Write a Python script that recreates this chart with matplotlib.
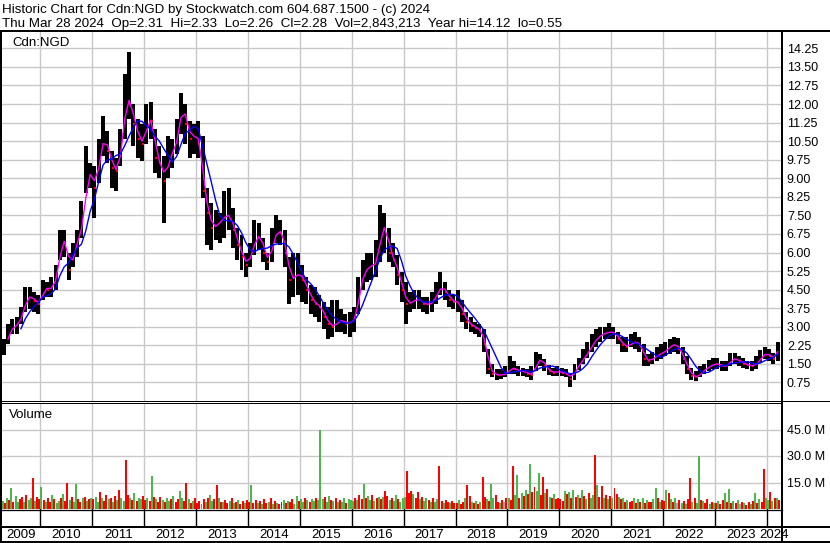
import numpy as np
import pandas as pd
import matplotlib
matplotlib.use('Agg')
import matplotlib.pyplot as plt

plt.rcParams['font.family'] = ['Liberation Sans', 'DejaVu Sans']

# месячные данные Apr 2009 .. Mar 2024
months = pd.period_range('2009-04', '2024-03', freq='M')

hi = [2.5, 3.1, 3.3, 3.4, 3.8, 4.6, 4.6, 4.4, 4.3,
      4.9, 4.8, 5.0, 5.5, 6.9, 6.9, 6.0, 6.4, 6.9, 8.1, 10.3, 9.6,
      9.5, 10.6, 11.5, 10.9, 10.1, 9.8, 11.0, 13.2, 14.12, 12.0, 11.4, 11.2,
      12.0, 12.1, 11.0, 10.3, 9.9, 10.7, 10.6, 11.4, 12.45, 12.0, 11.3, 11.2,
      11.3, 10.7, 8.6, 8.0, 7.7, 7.6, 8.5, 8.6, 7.8, 7.0, 6.7, 6.0,
      6.4, 7.3, 7.2, 6.6, 6.0, 7.0, 7.5, 7.3, 6.9, 5.8, 6.0, 6.0,
      5.5, 5.0, 4.7, 4.6, 4.3, 4.0, 3.8, 4.1, 4.1, 3.7, 3.5, 3.6,
      3.8, 5.0, 5.7, 6.0, 6.0, 6.5, 7.9, 7.6, 7.0, 6.4, 5.9, 5.2,
      4.8, 4.4, 4.5, 4.5, 4.2, 4.2, 4.4, 4.8, 5.2, 4.8, 4.5, 4.3,
      4.5, 4.1, 3.6, 3.4, 3.2, 3.1, 2.9, 2.1, 1.5, 1.3, 1.3, 1.4,
      1.8, 1.6, 1.4, 1.35, 1.3, 1.4, 2.0, 1.9, 1.7, 1.45, 1.35, 1.4,
      1.35, 1.3, 1.1, 1.5, 1.75, 2.1, 2.4, 2.7, 2.9, 3.0, 3.0, 3.15,
      3.0, 2.8, 2.6, 2.6, 2.7, 2.8, 2.6, 2.3, 1.9, 2.0, 2.2, 2.3,
      2.4, 2.5, 2.6, 2.55, 2.2, 1.8, 1.35, 1.2, 1.4, 1.5, 1.65, 1.75,
      1.75, 1.6, 1.6, 1.95, 1.95, 1.8, 1.75, 1.6, 1.6, 1.8, 2.05, 2.2,
      2.1, 1.95, 2.4]

lo = [1.85, 2.3, 2.7, 2.7, 3.1, 3.6, 3.7, 3.6, 3.5,
      4.1, 4.2, 4.2, 4.5, 5.7, 5.8, 4.9, 5.4, 5.8, 6.6, 8.4, 8.6,
      7.4, 8.8, 9.9, 9.6, 8.6, 8.5, 9.5, 10.6, 11.4, 10.3, 9.8, 9.7,
      10.4, 10.6, 9.2, 9.0, 7.2, 9.0, 9.4, 10.0, 10.8, 10.4, 9.8, 10.0,
      9.8, 8.2, 6.3, 6.1, 6.5, 6.4, 6.6, 6.9, 6.2, 5.7, 5.3, 5.0,
      5.4, 5.9, 6.1, 5.6, 5.3, 5.6, 6.4, 6.3, 5.4, 3.9, 4.2, 4.3,
      4.0, 3.9, 3.5, 3.4, 3.2, 2.9, 2.5, 2.6, 2.8, 2.8, 2.7, 2.6,
      2.8, 3.5, 4.5, 4.8, 4.9, 5.0, 5.6, 6.0, 5.6, 5.4, 4.7, 4.0,
      3.1, 3.6, 3.7, 3.7, 3.6, 3.5, 3.6, 3.9, 4.3, 4.1, 3.8, 3.7,
      3.6, 3.2, 2.9, 2.8, 2.7, 2.6, 2.0, 1.1, 0.95, 0.85, 0.9, 0.95,
      1.1, 1.1, 1.0, 1.0, 0.95, 0.85, 1.2, 1.4, 1.2, 1.05, 1.0, 1.0,
      1.0, 0.95, 0.55, 0.85, 1.25, 1.5, 1.75, 2.0, 2.2, 2.4, 2.5, 2.5,
      2.5, 2.3, 2.0, 2.0, 2.2, 2.1, 2.0, 1.4, 1.4, 1.5, 1.6, 1.7,
      1.8, 1.9, 2.0, 1.9, 1.5, 1.1, 0.85, 0.8, 0.95, 1.1, 1.2, 1.3,
      1.3, 1.2, 1.2, 1.4, 1.5, 1.4, 1.35, 1.3, 1.2, 1.3, 1.55, 1.7,
      1.6, 1.5, 1.6]

close = [2.2, 2.8, 3.0, 3.1, 3.5, 4.2, 4.2, 4.05, 3.9,
         4.6, 4.5, 4.6, 5.1, 6.5, 6.4, 5.3, 6.1, 6.6, 7.3, 9.1, 9.2,
         8.6, 10.2, 10.6, 10.1, 9.4, 9.3, 10.5, 12.3, 12.0, 11.2, 10.6, 10.4,
         11.4, 11.3, 9.8, 9.6, 8.9, 10.0, 10.0, 10.9, 12.0, 11.2, 10.6, 10.8,
         10.4, 8.5, 7.6, 7.0, 7.1, 7.3, 7.5, 7.5, 6.9, 6.3, 5.8, 5.5,
         6.0, 6.6, 6.7, 6.0, 5.6, 6.5, 6.9, 6.8, 6.0, 4.9, 5.0, 5.2,
         4.9, 4.5, 4.1, 3.9, 3.8, 3.4, 3.1, 3.0, 3.2, 3.3, 3.1, 3.2,
         3.3, 4.6, 5.2, 5.4, 5.5, 5.6, 7.0, 7.0, 6.0, 5.7, 5.1, 4.5,
         3.9, 4.0, 4.1, 4.1, 3.9, 3.9, 4.0, 4.4, 4.65, 4.4, 4.1, 4.0,
         4.0, 3.5, 3.2, 3.05, 2.95, 2.85, 2.3, 1.3, 1.1, 1.05, 1.05, 1.1,
         1.35, 1.3, 1.2, 1.2, 1.1, 1.05, 1.6, 1.7, 1.4, 1.2, 1.15, 1.2,
         1.15, 1.1, 0.9, 1.3, 1.5, 1.8, 2.0, 2.35, 2.55, 2.7, 2.75, 2.8,
         2.75, 2.5, 2.25, 2.2, 2.35, 2.4, 2.25, 1.7, 1.6, 1.75, 1.85, 1.95,
         2.05, 2.25, 2.3, 2.1, 1.7, 1.3, 1.0, 0.95, 1.15, 1.3, 1.4, 1.5,
         1.5, 1.4, 1.4, 1.7, 1.7, 1.6, 1.5, 1.45, 1.4, 1.55, 1.8, 1.95,
         1.8, 1.7, 2.28]

# объём по полумесяцам, млн
vol = [4.5, 3.2, 6.0, 5.1, 11.8, 4.0, 7.5, 3.8, 5.5, 6.8, 4.2, 8.0, 5.0, 6.2, 17.7, 4.8, 7.0, 5.5,
       12.5, 5.0, 3.8, 6.5, 4.2, 7.8, 5.5, 3.5, 4.8, 6.0, 8.5, 4.5, 14.6, 5.2, 6.8, 3.9, 14.0, 5.5, 4.0, 6.2, 7.0, 4.4, 5.8, 6.5,
       5.5, 7.0, 4.2, 9.5, 6.0, 4.8, 8.2, 5.5, 6.5, 4.0, 7.5, 5.2, 10.5, 6.0, 4.5, 27.7, 8.0, 6.5, 5.0, 9.0, 4.8, 6.2, 5.5, 7.5,
       5.0, 6.5, 4.5, 18.7, 7.0, 5.5, 4.2, 6.8, 5.0, 3.8, 6.0, 4.5, 5.5, 7.2, 4.0, 5.8, 10.0, 6.5, 4.8, 14.8, 5.5, 3.5, 4.8, 6.0,
       3.5, 4.8, 3.0, 5.5, 4.0, 6.0, 8.0, 4.5, 5.5, 13.6, 6.5, 4.2, 3.8, 5.0, 3.2, 4.6, 6.2, 3.5, 4.0, 5.2, 3.0, 4.4, 3.6, 5.0,
       4.0, 13.6, 3.5, 5.0, 3.2, 4.5, 2.8, 5.5, 3.6, 4.2, 6.5, 3.0, 4.8, 3.5, 2.6, 4.0, 5.0, 3.2, 4.5, 3.8, 5.5, 3.0, 7.2, 4.5,
       5.5, 4.2, 6.5, 5.0, 3.8, 5.8, 4.5, 6.2, 5.0, 45.0, 5.5, 6.8, 4.0, 7.2, 5.0, 4.5, 6.0, 3.8, 5.2, 4.0, 6.5, 3.5, 5.8, 5.0,
       4.5, 6.0, 5.2, 8.0, 5.5, 14.0, 6.5, 7.5, 5.0, 8.2, 4.8, 6.0, 7.0, 5.5, 6.8, 10.0, 7.5, 5.0, 6.2, 4.5, 8.0, 5.5, 4.0, 6.5,
       7.0, 21.5, 9.0, 10.0, 8.5, 6.0, 9.5, 5.5, 7.0, 4.5, 6.0, 5.0, 4.2, 6.5, 3.8, 5.5, 24.3, 4.5, 3.5, 5.0, 4.0, 3.2, 4.8, 3.5,
       3.5, 5.0, 3.0, 4.2, 6.5, 13.6, 7.5, 4.0, 3.2, 4.5, 2.8, 4.0, 18.0, 7.0, 5.5, 4.5, 14.0, 6.5, 8.0, 4.0, 3.5, 5.0, 4.2, 6.0,
       6.5, 5.0, 24.3, 8.0, 19.0, 6.5, 9.0, 7.5, 11.0, 8.5, 25.4, 9.5, 12.7, 10.0, 20.5, 8.0, 18.0, 9.0, 11.5, 7.0, 6.5, 8.5, 5.5, 6.0,
       5.5, 4.5, 10.0, 8.5, 9.5, 6.0, 10.5, 7.0, 8.0, 6.5, 11.0, 7.5, 5.5, 9.0, 6.5, 8.0, 30.5, 13.6, 7.0, 13.0, 6.5, 8.0, 5.5, 7.5,
       6.0, 11.8, 8.5, 7.0, 5.5, 6.5, 4.0, 5.0, 3.8, 4.5, 6.0, 3.5, 5.5, 4.0, 6.5, 3.2, 5.0, 4.2, 3.8, 5.5, 11.8, 6.0, 4.0, 5.0,
       4.5, 11.0, 9.0, 5.5, 4.0, 6.0, 3.5, 5.0, 3.2, 4.5, 3.0, 5.5, 17.4, 4.0, 6.0, 3.5, 30.0, 5.0, 4.5, 3.2, 5.5, 3.0, 4.2, 3.5,
       3.5, 4.5, 3.0, 5.0, 9.0, 4.0, 11.4, 3.5, 4.8, 3.2, 5.0, 2.8, 4.2, 3.5, 2.5, 4.0, 3.0, 4.5, 9.0, 3.5, 5.5, 4.0, 22.6, 6.5,
       5.0, 9.5, 4.5, 6.0, 6.0, 5.0]

vol_col = ("grgrgrggrrgrggrgrr"
           "grgrrgrggrgrrgrggrrgrgrg"
           "rggrgrrgrgrgrggrrgrgrggr"
           "rgrgrgrrgrggrgrrggrrgrgr"
           "rrgrgrggrrgrgrrgrgrgrrgr"
           "rgrrgrgrrgrgrgrrgrgrrggr"
           "ggrgrggrgggrggrgrgrggrgg"
           "grgrrgrggrgrgrgrrgrggrgg"
           "grrrgrrgrggrgrggrrgrrgrr"
           "rgrrgrrgrgrgrrgrggrrgrxr"
           "grrggrgrgrgrrggrrgrgrgrr"
           "rrgrgrgrgrgrgrggrgrrgrgr"
           "grrgrgrgrrgrgrgrgrrggrgr"
           "rgrgrgxrgrgrrgrggrgrrgrg"
           "rgrrgrgrgrgxrgrrgrgrgrrg"
           "grgrgr")

years = list(range(2010, 2025))
price_ticks = np.arange(0.75, 14.3, 0.75)
vol_ticks = [15, 30, 45]

# x в долях года
xm = np.array(months.year + (months.month - 0.5) / 12)
xh = np.repeat(np.array(months.year + (months.month - 1) / 12), 2) + np.tile([0.25, 0.75], len(months)) / 12
close_s = pd.Series(close)
ma_fast = close_s.rolling(2).mean()
ma_slow = close_s.rolling(5).mean()
x0, x1 = 2009.26, 2024.29

W, H = 830, 543
fig = plt.figure(figsize=(W / 100, H / 100), dpi=100)


def box(left, top, right, bottom):
    return [left / W, 1 - bottom / H, (right - left) / W, (bottom - top) / H]


ax = fig.add_axes(box(2, 31, 782, 401))
axv = fig.add_axes(box(2, 403, 782, 509))
axd = fig.add_axes(box(2, 509, 782, 527))
axl = fig.add_axes(box(2, 527, 782, 542))

for a in (ax, axv, axd, axl):
    a.set_xlim(x0, x1)
    for s in a.spines.values():
        s.set_visible(False)
    a.set_xticks(years)
    a.tick_params(axis='x', length=0, labelbottom=False)

gc = '#c8c8c8'
# цена
up = np.r_[True, np.diff(close) >= 0]
ax.bar(xm, np.array(hi) - np.array(lo), bottom=lo, width=0.92 / 12, color='black', zorder=2)
ax.hlines(np.array(close)[~up], xm[~up], xm[~up] + 0.46 / 12, color='red', lw=1.5, zorder=3)
ax.plot(xm, ma_fast, color='#ff00ff', lw=1.0, zorder=4)
ax.plot(xm, ma_slow, color='#0000ff', lw=1.0, zorder=5)
ax.set_ylim(0, 14.95)
ax.set_yticks(price_ticks)
ax.set_yticklabels([f'{t:.2f}' for t in price_ticks])
ax.yaxis.tick_right()
ax.tick_params(axis='y', length=0, pad=3.5, labelsize=9)
ax.grid(True, color=gc, lw=1.0, zorder=0)
ax.text(10 / 780, 1 - 14.5 / 370, 'Cdn:NGD', transform=ax.transAxes, fontsize=9.5, va='baseline')

# объём
cmap = {'r': '#ff0000', 'g': '#4cb84c', 'x': '#a8a8a8'}
axv.bar(xh, vol, width=0.92 / 24, color=[cmap[c] for c in vol_col], zorder=2)
axv.set_ylim(0, 60)
axv.set_yticks(vol_ticks)
axv.set_yticklabels([f'{t:.1f} M' for t in vol_ticks])
axv.yaxis.tick_right()
axv.tick_params(axis='y', length=0, pad=3.5, labelsize=9)
axv.grid(True, color=gc, lw=1.0, zorder=0)
axv.text(7 / 780, 1 - 15 / 106, 'Volume', transform=axv.transAxes, fontsize=9.5, va='baseline')

# полоса с делениями и подписи лет
axd.set_yticks([])
for y in years:
    axd.axvline(y, color='black', lw=1.0)
axl.set_yticks([])
edges = [x0] + years + [x1]
for a_, b_ in zip(edges[:-1], edges[1:]):
    axl.text((a_ + b_) / 2, 0.45, str(int(np.floor(a_))), ha='center', va='center',
             fontsize=9.5, clip_on=False)

# рамка
fr = fig.add_axes([0, 0, 1, 1], zorder=10)
fr.set_xlim(0, W)
fr.set_ylim(H, 0)
fr.axis('off')
fr.patch.set_alpha(0)
k = 0.72
fr.plot([0, W], [31, 31], color='black', lw=2 * k)
fr.plot([1, 1], [31, H], color='black', lw=2 * k)
fr.plot([782, 782], [31, H], color='black', lw=2 * k)
fr.plot([0, W], [400.5, 400.5], color='black', lw=k)
fr.plot([0, 782], [402.5, 402.5], color='black', lw=k)
fr.plot([0, 782], [509.5, 509.5], color='black', lw=1.3 * k)
fr.plot([0, W], [527, 527], color='black', lw=2 * k)
fr.plot([0, W], [542, 542], color='black', lw=2 * k)

fig.text(2 / W, 1 - 12.7 / H, 'Historic Chart for Cdn:NGD by Stockwatch.com 604.687.1500 - (c) 2024',
         fontsize=9.6, va='baseline')
fig.text(2 / W, 1 - 26.7 / H,
         'Thu Mar 28 2024  Op=2.31  Hi=2.33  Lo=2.26  Cl=2.28  Vol=2,843,213  Year hi=14.12  lo=0.55',
         fontsize=9.6, va='baseline')

fig.savefig('out.png', dpi=100)
